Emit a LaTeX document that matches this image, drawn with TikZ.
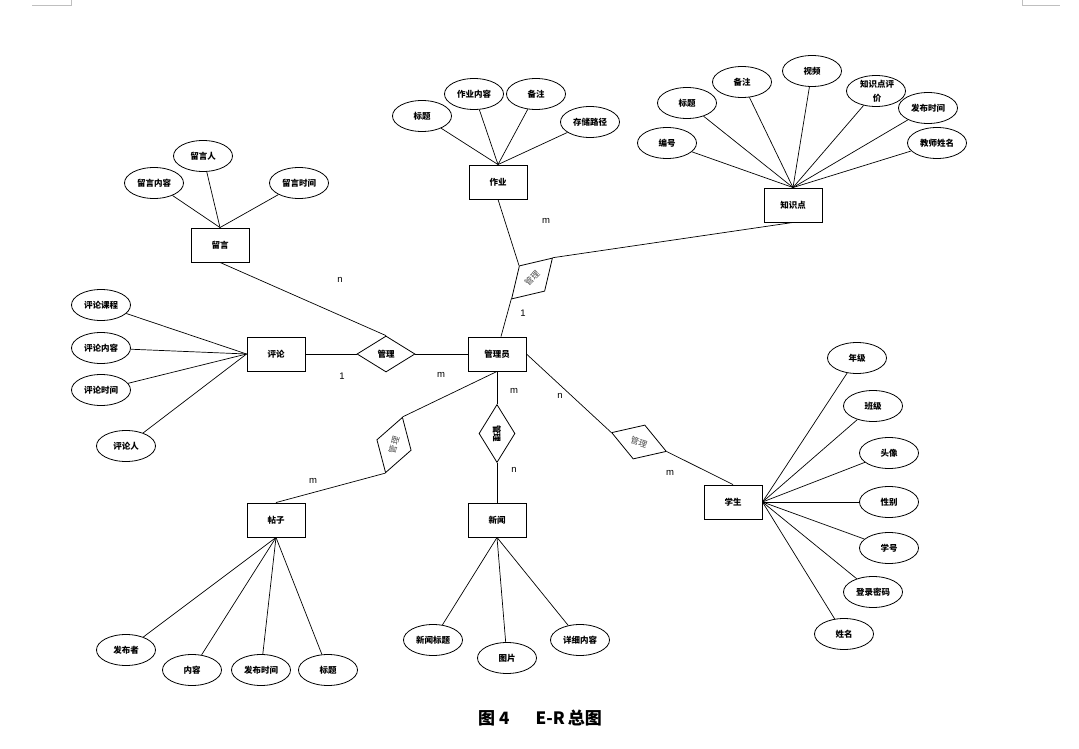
\documentclass[tikz,border=0pt]{standalone}
\usepackage{fontspec}
\setmainfont{Liberation Sans}
\newfontfamily\cjk{Noto Sans CJK SC}
\usetikzlibrary{shapes.geometric}
\begin{document}
\begin{tikzpicture}[x=1pt,y=-1pt,
  ent/.style={draw, rectangle, line width=0.9pt, minimum width=58pt, minimum height=34pt, inner sep=0pt, font=\cjk\bfseries\fontsize{8.5}{10}\selectfont},
  attr/.style={draw, ellipse, line width=0.8pt, minimum width=59pt, minimum height=31pt, inner sep=0pt, font=\cjk\bfseries\fontsize{8.5}{10}\selectfont},
  rel/.style={draw, diamond, line width=0.8pt, minimum width=58pt, minimum height=36pt, inner sep=0pt, font=\cjk\fontsize{8.5}{10}\selectfont},
  relb/.style={rel, font=\cjk\bfseries\fontsize{8.5}{10}\selectfont},
  card/.style={inner sep=0pt, font=\fontsize{9.5}{11}\selectfont},
  ln/.style={line width=0.7pt},
  cornermark/.style={draw=black!25, line width=0.8pt}
]
\useasboundingbox (0,0) rectangle (1079,749);
% corner marks
\coordinate (cl1) at (32,5); \coordinate (cl2) at (71,5); \coordinate (cl3) at (71,0);
\coordinate (cr1) at (1022,0); \coordinate (cr2) at (1022,5); \coordinate (cr3) at (1060,5);
\draw[cornermark] (cl1) -- (cl2) -- (cl3);
\draw[cornermark] (cr1) -- (cr2) -- (cr3);

% entities
\node[ent] (ly) at (220,245) {留言};
\node[ent] (zy) at (498,182) {作业};
\node[ent] (kp) at (793,205) {知识点};
\node[ent] (pl) at (276,354) {评论};
\node[ent] (gly) at (497,354) {管理员};
\node[ent] (tz) at (276,520) {帖子};
\node[ent] (xw) at (497,520) {新闻};
\node[ent] (xs) at (733,502) {学生};

% relationships
\node[relb] (r1) at (386,354) {管理};
\node[rel, rotate=45, text=black!70] (r2) at (532,278.5) {管理};
\node[rel, rotate=73, text=black!70] (r3) at (394,445) {管理};
\node[relb, rotate=-90] (r4) at (497,433.5) {管理};
\node[rel, rotate=-19, text=black!70] (r5) at (639,442) {管理};

% 留言 attributes
\node[attr] (ly1) at (203,156) {留言人};
\node[attr] (ly2) at (154,183) {留言内容};
\node[attr] (ly3) at (299,183) {留言时间};
\foreach \a in {ly1,ly2,ly3} \draw[ln] (\a) -- (ly.north);

% 作业 attributes
\node[attr] (zy1) at (422,116) {标题};
\node[attr] (zy2) at (474,94) {作业内容};
\node[attr] (zy3) at (536,94) {备注};
\node[attr] (zy4) at (590,122) {存储路径};
\foreach \a in {zy1,zy2,zy3,zy4} \draw[ln] (\a) -- (zy.north);

% 知识点 attributes
\node[attr] (kp1) at (667,143) {编号};
\node[attr] (kp2) at (687,103) {标题};
\node[attr] (kp3) at (742,82) {备注};
\node[attr] (kp4) at (812,71) {视频};
\node[attr] (kp5) at (876,91) {};
\node[inner sep=0pt, align=center, font=\cjk\bfseries\fontsize{8.5}{14}\selectfont] (kp5t) at (877,91) {知识点评\\价};
\node[attr] (kp6) at (928,108) {发布时间};
\node[attr] (kp7) at (937,143) {教师姓名};
\foreach \a in {kp1,kp2,kp3,kp4,kp5,kp6,kp7} \draw[ln] (\a) -- (kp.north);

% 评论 attributes
\node[attr] (pl1) at (101,305) {评论课程};
\node[attr] (pl2) at (101,348) {评论内容};
\node[attr] (pl3) at (101,390) {评论时间};
\node[attr] (pl4) at (126,446) {评论人};
\foreach \a in {pl1,pl2,pl3,pl4} \draw[ln] (\a) -- (pl.west);

% 帖子 attributes
\node[attr] (tz1) at (126,650) {发布者};
\node[attr] (tz2) at (192,670) {内容};
\node[attr] (tz3) at (261,670) {发布时间};
\node[attr] (tz4) at (328,670) {标题};
\foreach \a in {tz1,tz2,tz3,tz4} \draw[ln] (\a) -- (tz.south);

% 新闻 attributes
\node[attr] (xw1) at (433,640) {新闻标题};
\node[attr] (xw2) at (507,658) {图片};
\node[attr] (xw3) at (580,640) {详细内容};
\foreach \a in {xw1,xw2,xw3} \draw[ln] (\a) -- (xw.south);

% 学生 attributes
\node[attr] (xs1) at (857,358) {年级};
\node[attr] (xs2) at (873,406) {班级};
\node[attr] (xs3) at (889,453) {头像};
\node[attr] (xs4) at (889,502) {性别};
\node[attr] (xs5) at (889,548) {学号};
\node[attr] (xs6) at (873,592) {登录密码};
\node[attr] (xs7) at (844,634) {姓名};
\foreach \a in {xs1,xs2,xs3,xs4,xs5,xs6,xs7} \draw[ln] (\a) -- (xs.east);

% relationship connectors
\draw[ln] (ly.south) -- (r1.north);
\draw[ln] (pl.east) -- (r1.west);
\draw[ln] (r1.east) -- (gly.west);
\draw[ln] (zy.south) -- (r2.north);
\draw[ln] (r2.east) -- (kp.south);
\draw[ln] (r2.west) -- ([xshift=4pt]gly.north);
\draw[ln] (gly.south) -- (r3.east);
\draw[ln] (r3.west) -- (tz.north);
\draw[ln] (gly.south) -- (r4.west);
\draw[ln] (r4.east) -- (xw.north);
\draw[ln] (gly.east) -- (r5.west);
\draw[ln] (r5.east) -- (xs.north);

% cardinalities
\node[card] (c1) at (340,280) {n};
\node[card] (c2) at (342,376) {1};
\node[card] (c3) at (441,375) {m};
\node[card] (c4) at (546,221) {m};
\node[card] (c5) at (523,313) {1};
\node[card] (c6) at (514,391) {m};
\node[card] (c7) at (514,470) {n};
\node[card] (c8) at (560,396) {n};
\node[card] (c9) at (670,473) {m};
\node[card] (c10) at (313,481) {m};

% caption
\node[inner sep=0pt, font=\cjk\bfseries\fontsize{17}{19}\selectfont] (cap) at (540,718) {图\hspace{4pt}4\hspace{26pt}E-R\hspace{3pt}总图};
\end{tikzpicture}
\end{document}
